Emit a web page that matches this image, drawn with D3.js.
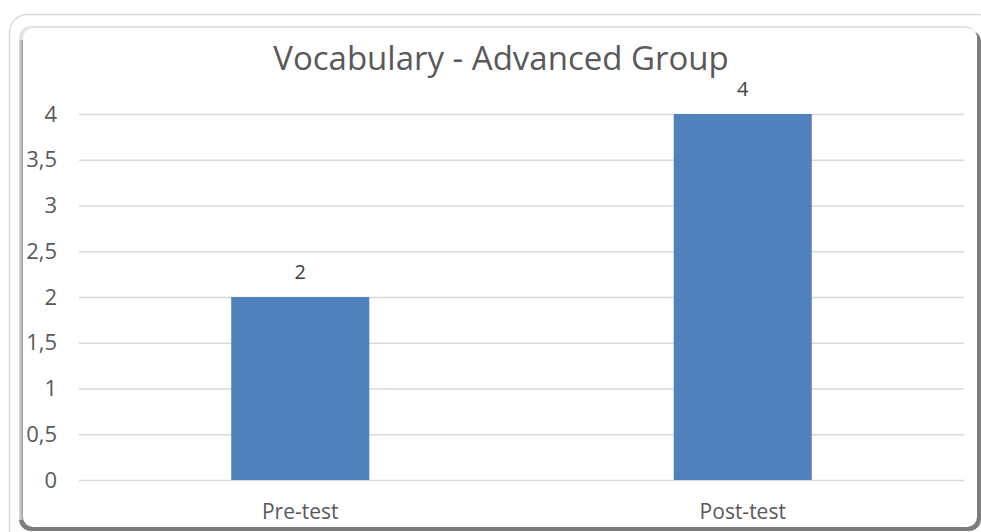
<!DOCTYPE html>
<html>
<head>
<meta charset="utf-8">
<script src="https://cdn.jsdelivr.net/npm/d3@7"></script>
<style>
  html, body { margin: 0; padding: 0; background: #fff; }
  text { font-family: "Open Sans", "Liberation Sans", sans-serif; fill: #595959; }
</style>
</head>
<body>
<div id="container"></div>
<script>
// Dados
var categories = ["Pre-test", "Post-test"];
var values = [2, 4];
var yTicks = [0, 0.5, 1, 1.5, 2, 2.5, 3, 3.5, 4];
var title = "Vocabulary - Advanced Group";

var W = 981, H = 532;
var plot = { left: 79, right: 964, top: 114, bottom: 480 };

var svg = d3.select("#container")
  .append("svg")
  .attr("width", W)
  .attr("height", H);

// Moldura externa (clara)
svg.append("rect")
  .attr("x", 9.5).attr("y", 14.5)
  .attr("width", 985).attr("height", 540)
  .attr("rx", 18)
  .attr("fill", "#fff")
  .attr("stroke", "#dcdcdc")
  .attr("stroke-width", 1.5);

// Sombra do painel: escura à esquerda, direita e embaixo, clara em cima
var defs = svg.append("defs");
var gl = defs.append("linearGradient").attr("id", "shadeL").attr("x1", 0).attr("x2", 1);
gl.append("stop").attr("offset", "0%").attr("stop-color", "#dedede");
gl.append("stop").attr("offset", "100%").attr("stop-color", "#8f8f8f");

svg.append("rect")
  .attr("x", 19).attr("y", 30)
  .attr("width", 962).attr("height", 501)
  .attr("rx", 12)
  .attr("fill", "#7c7c7c");

svg.append("rect")
  .attr("x", 19).attr("y", 26)
  .attr("width", 958).attr("height", 300)
  .attr("rx", 12)
  .attr("fill", "#e3e3e3");

svg.append("rect")
  .attr("x", 19).attr("y", 40)
  .attr("width", 5).attr("height", 480)
  .attr("fill", "url(#shadeL)");

svg.append("rect")
  .attr("x", 23).attr("y", 28)
  .attr("width", 954).attr("height", 499)
  .attr("rx", 10)
  .attr("fill", "#fff");

// Escalas
var x = d3.scaleBand()
  .domain(categories)
  .range([plot.left, plot.right])
  .paddingInner(0.688)
  .paddingOuter(0.344);

var y = d3.scaleLinear()
  .domain([0, 4])
  .range([plot.bottom, plot.top]);

var fmt = function(d) { return String(d).replace(".", ","); };

// Grade
var yAxis = d3.axisLeft(y)
  .tickValues(yTicks)
  .tickSize(-(plot.right - plot.left))
  .tickPadding(22)
  .tickFormat(fmt);

var gy = svg.append("g")
  .attr("transform", "translate(" + plot.left + ",0)")
  .call(yAxis);
gy.select(".domain").remove();
gy.selectAll(".tick line").attr("stroke", "#d9d9d9").attr("stroke-width", 1.3);
gy.selectAll(".tick text")
  .attr("font-size", 22)
  .style("font-family", "'Open Sans', sans-serif")
  .attr("fill", "#595959");

// Barras
svg.selectAll(".bar")
  .data(values)
  .enter().append("rect")
  .attr("class", "bar")
  .attr("x", function(d, i) { return x(categories[i]); })
  .attr("y", function(d) { return y(d); })
  .attr("width", x.bandwidth())
  .attr("height", function(d) { return y(0) - y(d); })
  .attr("fill", "#4f81bd");

// Rótulos dos valores
svg.selectAll(".val")
  .data(values)
  .enter().append("text")
  .attr("class", "val")
  .attr("x", function(d, i) { return x(categories[i]) + x.bandwidth() / 2; })
  .attr("y", function(d) { return y(d) - 18; })
  .attr("text-anchor", "middle")
  .attr("font-size", 20)
  .style("fill", "#404040")
  .text(function(d) { return d; });

// Eixo x
var xAxis = d3.axisBottom(x).tickSize(0).tickPadding(24);
var gx = svg.append("g")
  .attr("transform", "translate(0," + plot.bottom + ")")
  .call(xAxis);
gx.select(".domain").remove();
gx.selectAll(".tick text")
  .attr("font-size", 21)
  .style("font-family", "'Open Sans', sans-serif")
  .attr("fill", "#595959");

// Título
svg.append("text")
  .attr("x", 501)
  .attr("y", 70)
  .attr("text-anchor", "middle")
  .attr("font-size", 33)
  .text(title);
</script>
</body>
</html>
